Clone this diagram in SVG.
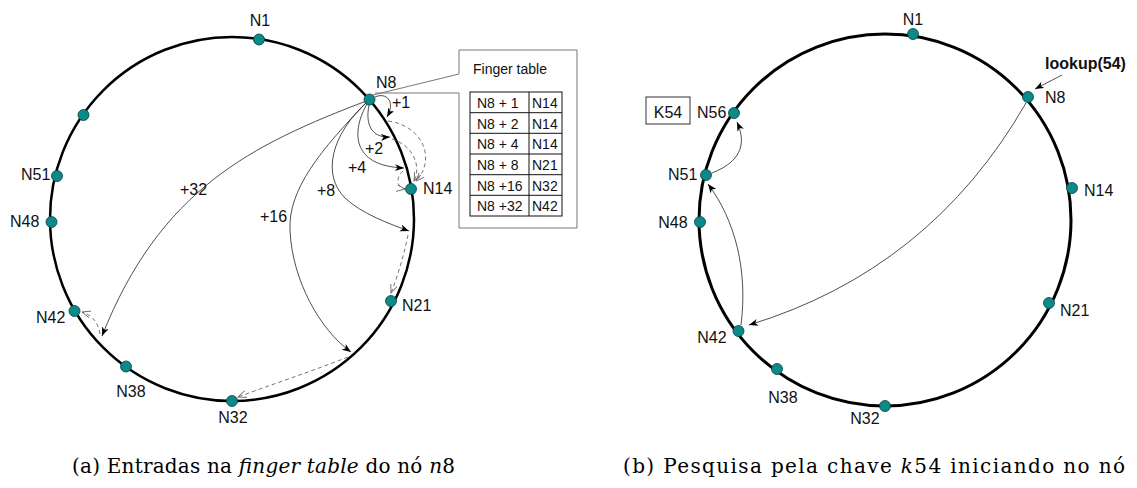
<svg xmlns="http://www.w3.org/2000/svg" width="1137" height="488" viewBox="0 0 1137 488">
  <style>
    .ring { fill: none; stroke: #000; }
    .dot { fill: #0b8a8a; stroke: #063f3f; stroke-width: 0.8; }
    .lbl { font-family: "Liberation Sans", Arial, sans-serif; font-size: 16px; fill: #111; }
    .mid { text-anchor: middle; }
    .cell { font-family: "Liberation Sans", Arial, sans-serif; font-size: 14px; fill: #111; }
    .hop { fill: none; stroke: #222; stroke-width: 0.8; marker-end: url(#solid); }
    .succ { fill: none; stroke: #666; stroke-width: 0.9; stroke-dasharray: 4 3; marker-end: url(#open); }
    .cap { font-family: "DejaVu Serif", "Liberation Serif", serif; font-size: 20px; fill: #000; }
    .callout { fill: none; stroke: #777; stroke-width: 1; }
  </style>
  <defs>
    <marker id="solid" markerWidth="10" markerHeight="8" refX="9" refY="3.5" orient="auto" markerUnits="userSpaceOnUse">
      <path d="M0,0 L9,3.5 L0,7 L2.5,3.5 z" fill="#000"/>
    </marker>
    <marker id="open" markerWidth="10" markerHeight="8" refX="8.5" refY="3.5" orient="auto" markerUnits="userSpaceOnUse">
      <path d="M0,0 L8.5,3.5 L0,7" fill="none" stroke="#666" stroke-width="0.9"/>
    </marker>
  </defs>

  <!-- (a) ring with finger pointers of n8 -->
  <circle class="ring" cx="232" cy="219" r="182" stroke-width="2.5"/>

  <g id="connectors-a">
    <!-- finger pointers -->
    <path class="hop" d="M375,97 C386,92 396,101 387,117"/>
    <path class="hop" d="M369,105 C365,125 372,138 390,137"/>
    <path class="hop" d="M367,104 C352,130 350,166 404,168"/>
    <path class="hop" d="M369,100 C330,135 322,175 345,198 C362,214 390,224 409,231"/>
    <path class="hop" d="M369,100 C320,150 288,190 290,230 C292,280 320,330 351,352"/>
    <path class="hop" d="M369,100 C250,145 160,190 102,336"/>
    <!-- successor hops -->
    <path class="succ" d="M388,121 C424,126 436,160 416,181"/>
    <path class="succ" d="M392,139 C412,145 422,165 414,181"/>
    <path class="succ" d="M403,171 C395,178 397,188 405,189"/>
    <path class="succ" d="M408,235 C404,255 398,275 391,293"/>
    <path class="succ" d="M348,357 C310,372 270,385 238,397"/>
    <path class="succ" d="M100,334 C98,322 92,315 82,312"/>
  </g>

  <g id="n1a"><circle class="dot" cx="259" cy="39.5" r="5.5"/><text class="lbl mid" x="260" y="26">N1</text></g>
  <g id="n8a"><circle class="dot" cx="369.5" cy="99.5" r="5.5"/><text class="lbl" x="376" y="88">N8</text></g>
  <g id="n14a"><circle class="dot" cx="411" cy="189" r="5.5"/><text class="lbl" x="423" y="194">N14</text></g>
  <g id="n21a"><circle class="dot" cx="391" cy="301" r="5.5"/><text class="lbl" x="402" y="311">N21</text></g>
  <g id="n32a"><circle class="dot" cx="232" cy="401" r="5.5"/><text class="lbl mid" x="233" y="423">N32</text></g>
  <g id="n38a"><circle class="dot" cx="126" cy="366.5" r="5.5"/><text class="lbl mid" x="131" y="397">N38</text></g>
  <g id="n42a"><circle class="dot" cx="74.5" cy="311" r="5.5"/><text class="lbl" x="36" y="323">N42</text></g>
  <g id="n48a"><circle class="dot" cx="51.5" cy="222" r="5.5"/><text class="lbl" x="10" y="227">N48</text></g>
  <g id="n51a"><circle class="dot" cx="57" cy="176" r="5.5"/><text class="lbl" x="21" y="180">N51</text></g>
  <g id="n56a"><circle class="dot" cx="83.5" cy="115" r="5.5"/></g>

  <g id="finger-labels">
    <text class="lbl" x="392" y="108">+1</text>
    <text class="lbl" x="365" y="154">+2</text>
    <text class="lbl" x="348" y="173">+4</text>
    <text class="lbl" x="317" y="196">+8</text>
    <text class="lbl" x="260" y="222">+16</text>
    <text class="lbl" x="180" y="195">+32</text>
  </g>

  <!-- finger table callout -->
  <g id="finger-table">
    <path class="callout" d="M373,95 L459,74 L459,50 L577,50 L577,228 L459,228 L459,93 L375,93"/>
    <text class="cell" x="473" y="74" font-size="14.5">Finger table</text>
    <g fill="none" stroke="#111" stroke-width="1">
      <rect x="470" y="92" width="92" height="124"/>
      <line x1="529" y1="92" x2="529" y2="216"/>
      <line x1="470" y1="112.7" x2="562" y2="112.7"/>
      <line x1="470" y1="133.3" x2="562" y2="133.3"/>
      <line x1="470" y1="154" x2="562" y2="154"/>
      <line x1="470" y1="174.7" x2="562" y2="174.7"/>
      <line x1="470" y1="195.3" x2="562" y2="195.3"/>
    </g>
    <text class="cell" x="477" y="108">N8 + 1</text><text class="cell" x="532" y="108">N14</text>
    <text class="cell" x="477" y="128.7">N8 + 2</text><text class="cell" x="532" y="128.7">N14</text>
    <text class="cell" x="477" y="149.3">N8 + 4</text><text class="cell" x="532" y="149.3">N14</text>
    <text class="cell" x="477" y="170">N8 + 8</text><text class="cell" x="532" y="170">N21</text>
    <text class="cell" x="477" y="190.7">N8 +16</text><text class="cell" x="532" y="190.7">N32</text>
    <text class="cell" x="477" y="211.3">N8 +32</text><text class="cell" x="532" y="211.3">N42</text>
  </g>

  <!-- (b) lookup of key 54 starting at n8 -->
  <circle class="ring" cx="885" cy="220" r="186" stroke-width="3"/>

  <g id="connectors-b">
    <path class="hop" d="M1026,103 Q930,270 749,325"/>
    <path class="hop" d="M741,325 C748,270 735,220 708,184"/>
    <path class="hop" d="M712,173 C745,160 745,140 737,122"/>
    <path class="hop" d="M1062,75 L1035,89"/>
  </g>

  <g id="n1b"><circle class="dot" cx="913" cy="34" r="5.5"/><text class="lbl mid" x="913" y="25">N1</text></g>
  <g id="n8b"><circle class="dot" cx="1028" cy="97" r="5.5"/><text class="lbl" x="1045" y="103">N8</text></g>
  <g id="n14b"><circle class="dot" cx="1072" cy="188" r="5.5"/><text class="lbl" x="1084" y="196">N14</text></g>
  <g id="n21b"><circle class="dot" cx="1049" cy="303" r="5.5"/><text class="lbl" x="1060" y="316">N21</text></g>
  <g id="n32b"><circle class="dot" cx="885" cy="406" r="5.5"/><text class="lbl mid" x="865" y="424">N32</text></g>
  <g id="n38b"><circle class="dot" cx="777" cy="369" r="5.5"/><text class="lbl mid" x="783" y="403">N38</text></g>
  <g id="n42b"><circle class="dot" cx="738.5" cy="331" r="5.5"/><text class="lbl mid" x="712" y="343">N42</text></g>
  <g id="n48b"><circle class="dot" cx="700" cy="222" r="5.5"/><text class="lbl mid" x="673" y="228">N48</text></g>
  <g id="n51b"><circle class="dot" cx="706" cy="175" r="5.5"/><text class="lbl" x="668" y="180">N51</text></g>
  <g id="n56b"><circle class="dot" cx="734" cy="113" r="5.5"/><text class="lbl" x="697" y="118">N56</text></g>
  <g id="k54"><rect x="646" y="97" width="44" height="27" fill="#fff" stroke="#333" stroke-width="1"/><text class="lbl mid" x="668" y="118">K54</text></g>
  <g id="lookup"><text class="lbl" x="1045" y="69" font-weight="bold" font-size="16.5">lookup(54)</text></g>

  <!-- captions -->
  <text class="cap" x="72" y="473" textLength="383">(a) Entradas na <tspan font-style="italic">finger table</tspan> do nó <tspan font-style="italic">n</tspan>8</text>
  <text class="cap" x="623" y="473" textLength="502">(b) Pesquisa pela chave <tspan font-style="italic">k</tspan>54 iniciando no nó</text>
</svg>
